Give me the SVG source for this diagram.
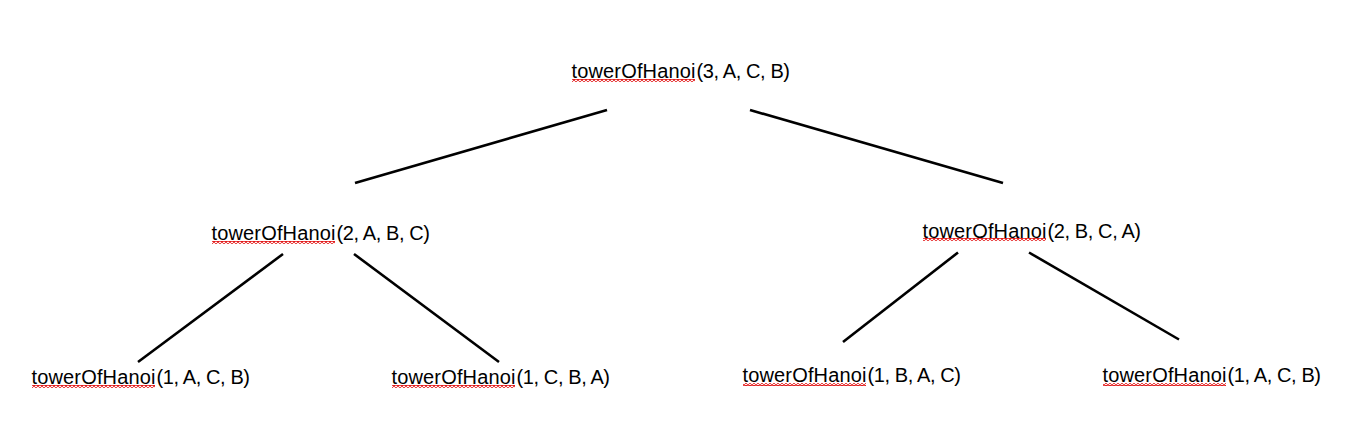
<svg xmlns="http://www.w3.org/2000/svg" width="1370" height="447" viewBox="0 0 1370 447">
<style>
.lbl{font-family:"Liberation Sans",Arial,sans-serif;font-size:20px;fill:#000}
.edge{stroke:#000;stroke-width:2.6;stroke-linecap:butt;fill:none}
.sq{fill:url(#wave)}
</style>
<defs>
<pattern id="wave" patternUnits="userSpaceOnUse" x="0" y="0" width="4" height="3">
<path d="M0,0.5 L2,2.5 L4,0.5" fill="none" stroke="#e00000" stroke-width="1.1"/>
</pattern>
</defs>
<rect width="1370" height="447" fill="#fff"/>
<g id="connectors">
<line class="edge" x1="607" y1="110" x2="355" y2="183"/>
<line class="edge" x1="750" y1="110" x2="1003" y2="183"/>
<line class="edge" x1="283" y1="254" x2="138" y2="362"/>
<line class="edge" x1="354" y1="254" x2="499" y2="362"/>
<line class="edge" x1="958" y1="252.5" x2="843" y2="342"/>
<line class="edge" x1="1029" y1="252.5" x2="1179" y2="339.5"/>
</g>
<g id="root">
<text class="lbl" x="571.5" y="78" textLength="124">towerOfHanoi</text>
<text class="lbl" x="696.5" y="78" textLength="93.5">(3, A, C, B)</text>
<rect class="sq" x="572" y="79" width="123" height="3"/>
</g>
<g id="n2-left">
<text class="lbl" x="211.5" y="240" textLength="124">towerOfHanoi</text>
<text class="lbl" x="336.5" y="240" textLength="93.5">(2, A, B, C)</text>
<rect class="sq" x="212" y="241" width="123" height="3"/>
</g>
<g id="n2-right">
<text class="lbl" x="922.5" y="237.5" textLength="124">towerOfHanoi</text>
<text class="lbl" x="1047.5" y="237.5" textLength="93.5">(2, B, C, A)</text>
<rect class="sq" x="923" y="238" width="123" height="3"/>
</g>
<g id="n3-1">
<text class="lbl" x="31.5" y="383.5" textLength="124">towerOfHanoi</text>
<text class="lbl" x="156.5" y="383.5" textLength="93.5">(1, A, C, B)</text>
<rect class="sq" x="32" y="385" width="123" height="3"/>
</g>
<g id="n3-2">
<text class="lbl" x="391.5" y="383.5" textLength="124">towerOfHanoi</text>
<text class="lbl" x="516.5" y="383.5" textLength="93.5">(1, C, B, A)</text>
<rect class="sq" x="392" y="385" width="123" height="3"/>
</g>
<g id="n3-3">
<text class="lbl" x="742.5" y="382" textLength="124">towerOfHanoi</text>
<text class="lbl" x="867.5" y="382" textLength="93.5">(1, B, A, C)</text>
<rect class="sq" x="743" y="383" width="123" height="3"/>
</g>
<g id="n3-4">
<text class="lbl" x="1102.5" y="382" textLength="124">towerOfHanoi</text>
<text class="lbl" x="1227.5" y="382" textLength="93.5">(1, A, C, B)</text>
<rect class="sq" x="1103" y="383" width="123" height="3"/>
</g>
</svg>
